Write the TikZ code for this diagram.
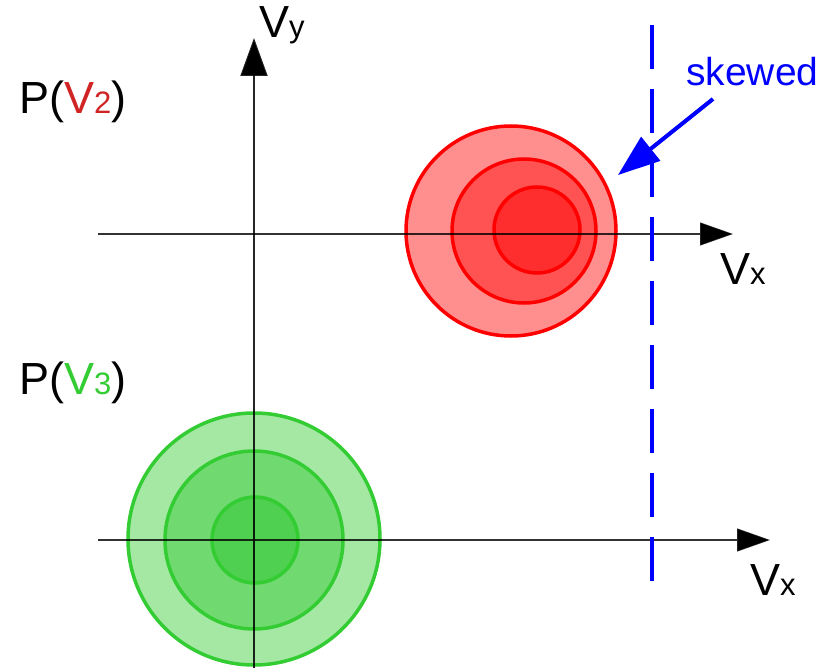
\documentclass[tikz,border=0pt]{standalone}
\usepackage{fontspec}
\setmainfont{Liberation Sans}
\usepackage{xcolor}
\usetikzlibrary{arrows.meta, positioning}

\definecolor{redline}{HTML}{FF0000}
\definecolor{redA}{HTML}{FF8F8F}
\definecolor{redB}{HTML}{FF5252}
\definecolor{redC}{HTML}{FF2E2E}
\definecolor{greenline}{HTML}{33CC33}
\definecolor{greenA}{HTML}{A4E8A4}
\definecolor{greenB}{HTML}{70DA70}
\definecolor{greenC}{HTML}{50D050}
\definecolor{labelred}{HTML}{D02424}
\definecolor{skewblue}{HTML}{0000FF}

\newcommand{\subtxt}[1]{{\fontsize{31}{33}\selectfont #1}}

\begin{document}
\begin{tikzpicture}[
    x=1pt, y=-1pt,
    haxis/.style={-{Triangle[length=33pt, width=23pt]}, line width=1.2pt, black, draw opacity=0.8},
    vaxis/.style={-{Triangle[length=38pt, width=27pt]}, line width=2pt, black, draw opacity=0.85},
    ring/.style={line width=3.5pt},
    lbl/.style={anchor=base west, inner sep=0pt, font=\fontsize{45}{50}\selectfont},
    skewarrow/.style={-{Triangle[length=42pt, width=30pt]}, line width=4pt, skewblue}
]
    \useasboundingbox (0,0) rectangle (827,668);

    % verteilung V2 (rot, schief)
    \draw[ring, draw=redline, fill=redA] (511,231) circle[radius=105];
    \draw[ring, draw=redline, fill=redB] (524,231) circle[radius=72];
    \draw[ring, draw=redline, fill=redC] (537,230) circle[radius=43];

    % verteilung V3 (gruen)
    \draw[ring, draw=greenline, fill=greenA] (254,539) circle[radius=126];
    \draw[ring, draw=greenline, fill=greenB] (254,540) circle[radius=89];
    \draw[ring, draw=greenline, fill=greenC] (255,540) circle[radius=43];

    % achsen
    \coordinate (top1) at (98,234);
    \coordinate (top2) at (733,234);
    \coordinate (bot1) at (98,540);
    \coordinate (bot2) at (770,540);
    \coordinate (vy1) at (254,668);
    \coordinate (vy2) at (254,38);
    \draw[haxis] (top1) -- (top2);
    \draw[haxis] (bot1) -- (bot2);
    \draw[vaxis] (vy1) -- (vy2);

    % grenze
    \coordinate (cut1) at (652,25);
    \coordinate (cut2) at (652,582);
    \draw[skewblue, line width=4pt, dash pattern=on 44pt off 20pt] (cut1) -- (cut2);

    % beschriftung
    \node[lbl] (vy) at (259,38) {V\subtxt{y}};
    \node[lbl] (vx1) at (720,285) {V\subtxt{x}};
    \node[lbl] (vx2) at (750,595) {V\subtxt{x}};
    \node[lbl] (pv2) at (19,114) {P(\textcolor{labelred}{V\subtxt{2}})};
    \node[lbl] (pv3) at (19,394) {P(\textcolor{greenline}{V\subtxt{3}})};
    \node[lbl, font=\fontsize{39}{44}\selectfont, text=skewblue] (skewed) at (686,86) {skewed};

    % pfeil
    \coordinate (skewtail) at (713,99);
    \coordinate (skewtip) at (618,175);
    \draw[skewarrow] (skewtail) -- (skewtip);
\end{tikzpicture}
\end{document}
